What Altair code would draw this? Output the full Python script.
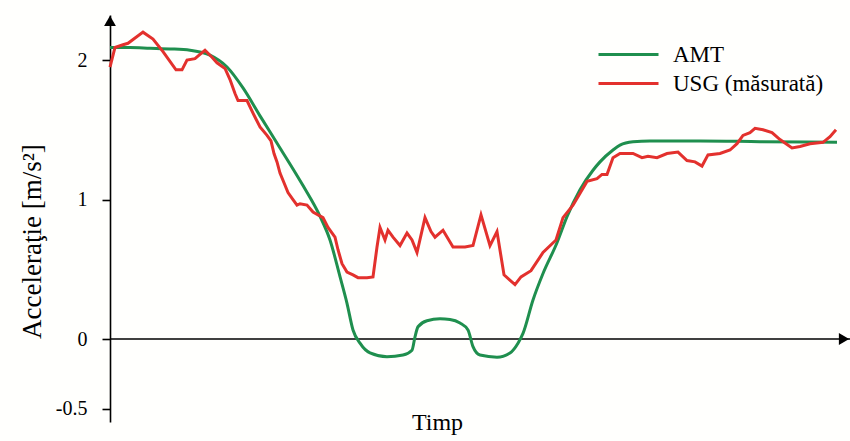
import altair as alt
import pandas as pd

# ---- data (time in arbitrary units, acceleration in m/s^2) ----
amt_t = [0, 20, 40, 60, 80, 100, 117, 133, 150, 170, 193, 210, 220, 230, 237, 243, 250, 260,
         277, 293, 302, 305, 308, 317, 330, 340, 350, 358, 363, 370, 387, 400, 408, 413, 423,
         433, 447, 457, 470, 483, 490, 503, 510, 523, 540, 590, 650, 727]
amt_v = [2.09, 2.09, 2.085, 2.08, 2.07, 2.035, 1.95, 1.80, 1.60, 1.37, 1.10, 0.88, 0.71,
         0.447, 0.256, 0.065, -0.03, -0.10, -0.127, -0.115, -0.08, 0.016, 0.088, 0.131, 0.145,
         0.14, 0.115, 0.065, -0.055, -0.115, -0.13, -0.10, -0.03, 0.04, 0.28, 0.47, 0.69, 0.877,
         1.07, 1.21, 1.27, 1.355, 1.39, 1.414, 1.42, 1.42, 1.415, 1.41]

usg_t = [0, 5, 13, 18, 33, 43, 53, 66, 72, 77, 85, 90, 95, 102, 107, 115, 120, 125, 128, 137,
         143, 150, 157, 161, 164, 167, 170, 174, 178, 183, 187, 190, 197, 203, 213, 218, 225,
         228, 232, 237, 243, 248, 257, 263, 267, 270, 275, 278, 283, 290, 297, 302, 307, 315,
         321, 325, 333, 343, 355, 363, 371, 380, 387, 394, 405, 411, 421, 433, 446, 453, 463,
         468, 477, 487, 492, 497, 503, 510, 523, 532, 538, 547, 557, 568, 577, 585, 592, 598,
         610, 620, 627, 633, 640, 645, 653, 662, 670, 682, 690, 700, 713, 720, 726]
usg_v = [1.95, 2.09, 2.11, 2.12, 2.20, 2.15, 2.06, 1.93, 1.93, 2.0, 2.01, 2.04, 2.07, 2.02,
         1.98, 1.94, 1.86, 1.76, 1.71, 1.71, 1.62, 1.52, 1.46, 1.42, 1.33, 1.27, 1.19, 1.12,
         1.05, 1.00, 0.96, 0.97, 0.96, 0.91, 0.87, 0.80, 0.73, 0.64, 0.54, 0.48, 0.46, 0.44,
         0.44, 0.445, 0.66, 0.80, 0.71, 0.78, 0.73, 0.67, 0.76, 0.71, 0.62, 0.87, 0.77, 0.73,
         0.78, 0.66, 0.66, 0.67, 0.89, 0.67, 0.77, 0.46, 0.39, 0.445, 0.49, 0.62, 0.71, 0.87,
         0.96, 1.02, 1.13, 1.15, 1.18, 1.18, 1.30, 1.33, 1.33, 1.30, 1.31, 1.30, 1.33, 1.34,
         1.28, 1.27, 1.24, 1.32, 1.33, 1.355, 1.40, 1.46, 1.48, 1.51, 1.50, 1.48, 1.43, 1.37,
         1.38, 1.40, 1.41, 1.45, 1.50]

series = ["AMT", "USG (măsurată)"]
colors = ["#1f8f4e", "#e3312d"]
y_ticks = [-0.5, 0, 1, 2]
x_domain = [0, 740]
y_domain = [-0.595, 2.323]
x_title = "Timp"
y_title = "Acceleraţie [m/s²]"

# arrowheads at the ends of the two axes
arrow_t = [0, 734]
arrow_v = [2.28, 0]
arrow_shape = ["triangle-up", "triangle-right"]

FONT = "Liberation Serif"

df = pd.concat([
    pd.DataFrame({"t": amt_t, "v": amt_v, "s": series[0]}),
    pd.DataFrame({"t": usg_t, "v": usg_v, "s": series[1]}),
], ignore_index=True)

x_scale = alt.Scale(domain=x_domain, nice=False, zero=False)
y_scale = alt.Scale(domain=y_domain, nice=False, zero=False)

x_enc = alt.X("t:Q", scale=x_scale, axis=alt.Axis(
    title=x_title, domain=False, ticks=False, labels=False, grid=False,
    titleX=327, titleY=7, titleBaseline="alphabetic", titleAlign="center",
    titleFont=FONT, titleFontSize=24, titleFontWeight="normal", titleColor="black"))

y_enc = alt.Y("v:Q", scale=y_scale, axis=alt.Axis(
    values=y_ticks, title=y_title, grid=False, format="~g",
    domainColor="black", domainWidth=1.6, tickColor="black", tickWidth=1.6, tickSize=8,
    labelFont=FONT, labelFontSize=20, labelColor="black", labelPadding=15,
    labelExpr="replace(datum.label, '−', '-')",
    titleFont=FONT, titleFontSize=27, titleFontWeight="normal", titleColor="black",
    titleX=-70, titleY=226, titleAngle=270, titleBaseline="alphabetic", titleAlign="center"))

color_enc = alt.Color("s:N", scale=alt.Scale(domain=series, range=colors),
                      legend=alt.Legend(title=None, orient="none", legendX=507, legendY=28,
                                        symbolType="M-3,0H3", symbolSize=400,
                                        symbolStrokeWidth=3, symbolFillColor="transparent",
                                        labelFont=FONT, labelFontSize=23, labelColor="black",
                                        labelOffset=33, rowPadding=5, padding=0))

base = alt.Chart(df)

green = base.transform_filter(alt.datum.s == series[0]).mark_line(
    strokeWidth=3, interpolate="monotone").encode(x=x_enc, y=y_enc, color=color_enc)
red = base.transform_filter(alt.datum.s == series[1]).mark_line(
    strokeWidth=3).encode(x=x_enc, y=y_enc, color=color_enc)

zero_line = alt.Chart(pd.DataFrame({"t0": [x_domain[0]], "t1": [x_domain[1]], "v": [0]})).mark_rule(
    color="black", strokeWidth=1.6).encode(x="t0:Q", x2="t1:Q", y="v:Q")

arrows = alt.Chart(pd.DataFrame({"t": arrow_t, "v": arrow_v, "shape": arrow_shape})).mark_point(
    filled=True, color="black", opacity=1, size=140).encode(
    x="t:Q", y="v:Q", shape=alt.Shape("shape:N", scale=None))

chart = alt.layer(zero_line, green, red, arrows).properties(
    width=740, height=407,
    autosize=alt.AutoSizeParams(type="none"),
    padding={"left": 110, "top": 15, "right": 0, "bottom": 19},
    background="#fffffd",
).configure(font=FONT).configure_view(stroke=None)

chart.save("out.html", embed_options={"renderer": "svg", "actions": False})
